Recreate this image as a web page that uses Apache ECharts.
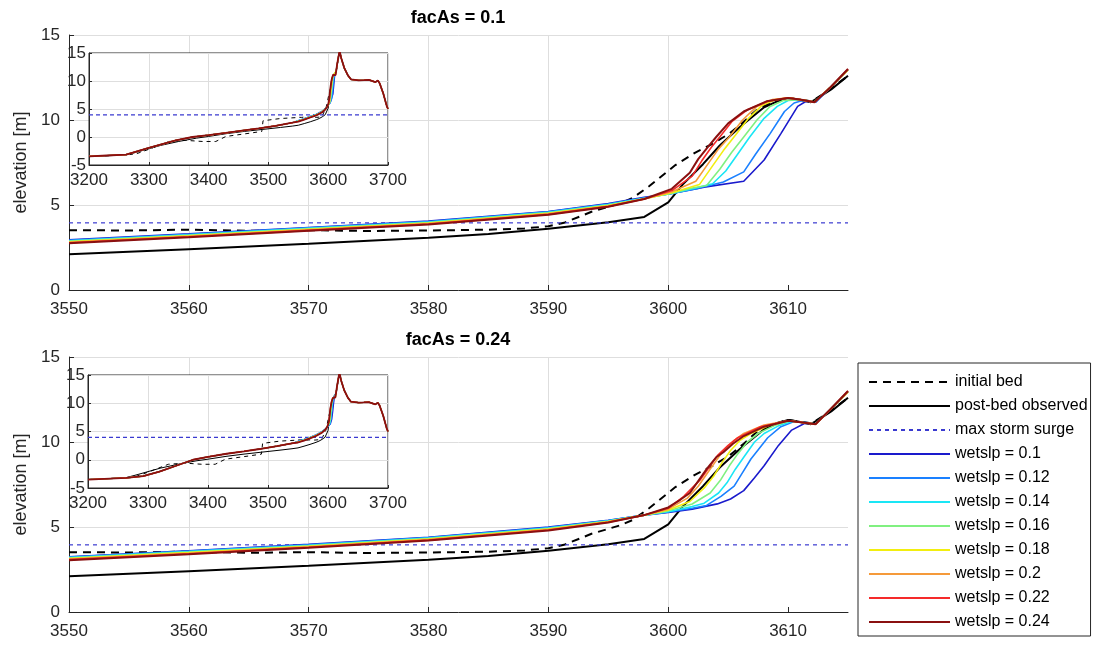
<!DOCTYPE html>
<html><head><meta charset="utf-8">
<script src="https://cdn.jsdelivr.net/npm/echarts@6/dist/echarts.min.js"></script>
<style>html,body{margin:0;padding:0;background:#fff}#c{width:1101px;height:648px}</style>
</head><body><div id="c"></div>
<script>
// ---------- data ----------
const titles = ['facAs = 0.1', 'facAs = 0.24'];
const xTickLabels = [3550, 3560, 3570, 3580, 3590, 3600, 3610];
const insetXTicks = [3200, 3300, 3400, 3500, 3600, 3700];
const wetNames = ['wetslp = 0.1','wetslp = 0.12','wetslp = 0.14','wetslp = 0.16','wetslp = 0.18','wetslp = 0.2','wetslp = 0.22','wetslp = 0.24'];
const stormSurge = 3.95;

const initialBed = [[3550,3.52],[3555,3.5],[3560,3.55],[3565,3.48],[3570,3.52],[3575,3.47],[3580,3.5],[3585,3.55],[3588,3.62],[3590,3.75],[3591.3,3.95],[3593.6,4.6],[3596,5.1],[3597,5.4],[3598.4,6.1],[3600.6,7.35],[3602.3,8.1],[3603.7,8.6],[3605.1,9.2],[3606.3,9.9],[3607.4,10.6],[3608.5,11.0],[3610,11.3],[3611,11.2],[3612,11.1],[3613.5,11.8],[3615,12.6]];
const postBed = [[3550,2.1],[3560,2.4],[3570,2.72],[3580,3.08],[3585,3.3],[3590,3.6],[3595,3.98],[3598,4.3],[3600,5.15],[3601.2,6.2],[3602.9,7.4],[3604.3,8.5],[3606,9.6],[3608,10.75],[3609.1,11.1],[3610,11.3],[3610.8,11.2],[3611.9,11.05],[3612.5,11.3],[3613.6,11.8],[3615,12.6]];

// facAs = 0.1
const top_w010 = [[3550,2.95],[3560,3.3],[3570,3.68],[3580,4.05],[3590,4.62],[3595,5.08],[3598,5.45],[3600.3,5.68],[3603,6.05],[3606.3,6.4],[3608,7.65],[3609.4,9.2],[3610.8,10.8],[3611.5,11.1],[3612.3,11.05],[3613.5,11.9],[3615,12.95]];
const top_w012 = [[3550,2.93],[3560,3.28],[3570,3.66],[3580,4.03],[3590,4.6],[3595,5.06],[3598,5.43],[3600.3,5.68],[3602.5,5.98],[3604.6,6.35],[3606.3,6.95],[3607.3,8.0],[3608.5,9.2],[3609.7,10.5],[3610.5,11.0],[3611.2,11.15],[3612.3,11.05],[3613.5,11.9],[3615,12.95]];
const top_w014 = [[3550,2.9],[3560,3.25],[3570,3.63],[3580,4.0],[3590,4.57],[3595,5.03],[3598,5.4],[3600.3,5.68],[3602.3,6.0],[3603.7,6.25],[3604.8,7.0],[3605.7,7.9],[3606.8,9.0],[3608,10.1],[3609.1,10.8],[3610,11.15],[3611,11.2],[3612.2,11.05],[3613.5,11.9],[3615,12.95]];
const top_w016 = [[3550,2.87],[3560,3.22],[3570,3.6],[3580,3.97],[3590,4.54],[3595,5.0],[3598,5.38],[3600.3,5.7],[3602,6.0],[3603.2,6.15],[3604.3,7.1],[3605.3,8.1],[3606.3,9.0],[3607.4,10.0],[3608.5,10.8],[3609.6,11.15],[3611,11.2],[3612.2,11.05],[3613.5,11.9],[3615,12.95]];
const top_w018 = [[3550,2.84],[3560,3.19],[3570,3.57],[3580,3.94],[3590,4.51],[3595,4.97],[3598,5.36],[3600.3,5.72],[3602.6,6.2],[3603.7,7.3],[3604.6,8.2],[3605.6,9.1],[3606.7,10.1],[3607.8,10.85],[3609,11.2],[3610,11.3],[3611,11.2],[3612.2,11.05],[3613.5,11.9],[3615,12.95]];
const top_w020 = [[3550,2.81],[3560,3.16],[3570,3.54],[3580,3.91],[3590,4.48],[3595,4.94],[3598,5.35],[3600.3,5.78],[3602.3,6.4],[3603.2,7.3],[3604.2,8.3],[3605.1,9.0],[3606.2,10.0],[3607.4,10.8],[3608.7,11.2],[3610,11.3],[3611,11.2],[3612.2,11.05],[3613.5,11.9],[3615,12.95]];
const top_w022 = [[3550,2.78],[3560,3.13],[3570,3.51],[3580,3.88],[3590,4.45],[3595,4.92],[3598,5.35],[3600.3,5.85],[3602,6.7],[3602.8,7.6],[3603.6,8.4],[3604.3,9.0],[3605.3,9.9],[3606.6,10.6],[3608.3,11.1],[3610,11.3],[3611,11.2],[3612.2,11.05],[3613.5,11.9],[3615,13.0]];
const top_w024 = [[3550,2.75],[3560,3.1],[3570,3.48],[3580,3.85],[3590,4.42],[3595,4.9],[3598,5.35],[3600.3,5.95],[3601.8,6.9],[3602.5,7.7],[3603.3,8.4],[3604,9.0],[3605,9.8],[3606.3,10.5],[3608.2,11.1],[3610,11.3],[3611,11.2],[3612.2,11.05],[3613.5,11.9],[3615,13.0]];

// facAs = 0.24
const bot_w010 = [[3550,3.25],[3560,3.6],[3570,3.98],[3580,4.4],[3590,5.0],[3595,5.4],[3598,5.7],[3600,5.85],[3602,6.05],[3604.1,6.36],[3605.2,6.65],[3606.3,7.14],[3607.2,7.9],[3608,8.6],[3609.2,9.8],[3610.3,10.7],[3611.4,11.1],[3612.3,11.05],[3613.5,11.9],[3615,12.95]];
const bot_w012 = [[3550,3.23],[3560,3.58],[3570,3.96],[3580,4.38],[3590,4.97],[3595,5.38],[3598,5.7],[3600,5.88],[3602,6.1],[3603.2,6.27],[3604.4,6.8],[3605.5,7.4],[3606.2,8.2],[3606.9,9.0],[3608.3,10.25],[3609.4,10.9],[3610.5,11.2],[3611.5,11.15],[3612.3,11.05],[3613.5,11.9],[3615,12.95]];
const bot_w014 = [[3550,3.2],[3560,3.55],[3570,3.93],[3580,4.35],[3590,4.94],[3595,5.36],[3598,5.7],[3600,5.9],[3602,6.2],[3603,6.4],[3604.2,7.0],[3604.9,7.6],[3605.6,8.4],[3606.3,9.1],[3607.2,10.0],[3608,10.5],[3609.2,10.95],[3610.3,11.2],[3611.3,11.15],[3612.3,11.05],[3613.5,11.9],[3615,12.95]];
const bot_w016 = [[3550,3.17],[3560,3.52],[3570,3.9],[3580,4.32],[3590,4.91],[3595,5.34],[3598,5.7],[3600,5.95],[3602,6.35],[3603.5,7.0],[3604.4,7.8],[3605.1,8.6],[3605.8,9.3],[3606.6,10.0],[3607.5,10.5],[3608.8,10.95],[3610.2,11.25],[3611.2,11.15],[3612.3,11.05],[3613.5,11.9],[3615,12.95]];
const bot_w018 = [[3550,3.14],[3560,3.49],[3570,3.87],[3580,4.29],[3590,4.88],[3595,5.32],[3598,5.7],[3600,6.0],[3601.8,6.5],[3603,7.3],[3603.8,8.0],[3604.5,8.8],[3605.2,9.5],[3606,10.1],[3606.9,10.5],[3608.5,11.0],[3610,11.25],[3611.2,11.15],[3612.3,11.05],[3613.5,11.9],[3615,12.95]];
const bot_w020 = [[3550,3.11],[3560,3.46],[3570,3.84],[3580,4.26],[3590,4.85],[3595,5.3],[3598,5.7],[3600,6.05],[3601.6,6.7],[3602.5,7.4],[3603.2,8.1],[3603.9,8.8],[3604.6,9.5],[3605.5,10.1],[3606.3,10.5],[3608,11.0],[3610,11.25],[3611.2,11.15],[3612.3,11.05],[3613.5,11.9],[3615,12.95]];
const bot_w022 = [[3550,3.08],[3560,3.43],[3570,3.81],[3580,4.23],[3590,4.82],[3595,5.28],[3598,5.7],[3600,6.1],[3601.3,6.8],[3602,7.3],[3602.7,7.8],[3603.4,8.5],[3604.1,9.2],[3605,9.8],[3605.8,10.25],[3607.7,10.9],[3610,11.25],[3611.2,11.15],[3612.3,11.05],[3613.5,11.9],[3615,13.0]];
const bot_w024 = [[3550,3.05],[3560,3.4],[3570,3.78],[3580,4.2],[3590,4.79],[3595,5.26],[3598,5.7],[3600,6.15],[3601,6.6],[3601.8,7.0],[3602.5,7.7],[3603.2,8.4],[3604,9.1],[3604.6,9.4],[3605.4,9.9],[3606.3,10.35],[3608,10.9],[3610,11.25],[3611.2,11.15],[3612.3,11.05],[3613.5,11.9],[3615,13.0]];

// inset (wide profile) pieces outside the main window
const insetTopLeft = [[3200,-3.45],[3230,-3.3],[3262,-3.15],[3279,-2.6],[3300,-1.95],[3318,-1.4],[3345,-0.6],[3373,0.0],[3400,0.35],[3429,0.75],[3456,1.15],[3484,1.55],[3512,2.0],[3540,2.55]];
const insetBotLeft = [[3200,-3.5],[3264,-3.2],[3292,-2.9],[3319,-2.1],[3347,-1.06],[3375,0.0],[3400,0.5],[3431,1.06],[3460,1.5],[3486,1.9],[3515,2.4],[3542,2.95]];
const insetPostLeft = [[3200,-3.5],[3262,-3.2],[3280,-2.7],[3320,-1.5],[3350,-0.8],[3380,-0.2],[3400,0.1],[3430,0.6],[3460,1.0],[3490,1.35],[3520,1.7],[3540,1.95]];
const insetInitLeft = [[3200,-3.5],[3262,-3.2],[3279,-3.0],[3300,-2.2],[3334,-0.8],[3362,-0.6],[3390,-0.8],[3412,-0.8],[3429,0.1],[3470,0.7],[3489,1.0],[3491,2.9],[3520,3.3],[3545,3.45]];
const insetRight = [[3617,14.2],[3619,15.4],[3622,14.0],[3627,12.3],[3633,11.0],[3638,10.3],[3651,10.1],[3660,10.15],[3668,10.2],[3679,9.8],[3683,10.1],[3686,9.6],[3692,7.8],[3698,5.5],[3700,5.0]];

// ---------- style ----------
const wetColors = ['#1a1acc','#1a80ff','#1ae6f5','#80f080','#f2ee10','#f59a3a','#f52a2a','#8a1010'];
const FONT = '"Liberation Sans", Arial, sans-serif';
const AX = '#262626';
const GRIDC = '#dedede';
const plain = v => String(v);

const topWet = [top_w010, top_w012, top_w014, top_w016, top_w018, top_w020, top_w022, top_w024];
const botWet = [bot_w010, bot_w012, bot_w014, bot_w016, bot_w018, bot_w020, bot_w022, bot_w024];

const mainGrids = [
  {left: 69, top: 35, width: 779, height: 255},
  {left: 69, top: 357, width: 779, height: 255}
];
const insetGrids = [
  {left: 89, top: 53, width: 299, height: 112, show: true, backgroundColor: '#fff', borderColor: AX, borderWidth: 1, z: 10},
  {left: 88, top: 375, width: 300, height: 113, show: true, backgroundColor: '#fff', borderColor: AX, borderWidth: 1, z: 10}
];

function mainX(gi) {
  return {type: 'value', gridIndex: gi, min: 3550, max: 3615, interval: 10,
    axisLine: {show: true, onZero: false, lineStyle: {color: AX, width: 1}},
    axisTick: {show: true, inside: true, length: 5, customValues: xTickLabels, lineStyle: {color: AX}},
    axisLabel: {customValues: xTickLabels, formatter: plain, fontSize: 17, color: AX, fontFamily: FONT, margin: 11},
    splitLine: {show: true, showMaxLine: false, lineStyle: {color: GRIDC, width: 1}}};
}
function mainY(gi) {
  return {type: 'value', gridIndex: gi, min: 0, max: 15, interval: 5,
    name: 'elevation [m]', nameLocation: 'middle', nameGap: 37,
    nameTextStyle: {fontSize: 18, color: AX, fontFamily: FONT},
    axisLine: {show: true, onZero: false, lineStyle: {color: AX, width: 1}},
    axisTick: {show: true, inside: true, length: 5, lineStyle: {color: AX}},
    axisLabel: {formatter: plain, fontSize: 17, color: AX, fontFamily: FONT, margin: 9},
    splitLine: {show: true, lineStyle: {color: GRIDC, width: 1}}};
}
function insetX(gi) {
  return {type: 'value', gridIndex: gi, min: 3200, max: 3700, interval: 100, z: 11,
    axisLine: {show: true, onZero: false, lineStyle: {color: AX}},
    axisTick: {show: true, inside: true, length: 3, lineStyle: {color: AX}},
    axisLabel: {formatter: plain, fontSize: 17, color: AX, fontFamily: FONT, margin: 7},
    splitLine: {show: true, lineStyle: {color: GRIDC}}};
}
function insetY(gi) {
  return {type: 'value', gridIndex: gi, min: -5, max: 15, interval: 5, z: 11,
    axisLine: {show: true, onZero: false, lineStyle: {color: AX}},
    axisTick: {show: true, inside: true, length: 3, lineStyle: {color: AX}},
    axisLabel: {formatter: plain, fontSize: 17, color: AX, fontFamily: FONT, margin: 3},
    splitLine: {show: true, lineStyle: {color: GRIDC}}};
}

const series = [];
function addLine(name, data, axisIdx, color, width, type, z) {
  series.push({name, type: 'line', xAxisIndex: axisIdx, yAxisIndex: axisIdx, data,
    symbol: 'none', silent: true, animation: false, z,
    lineStyle: {color, width, type}, itemStyle: {color}});
}

// main plots: axis index 0 (top), 1 (bottom)
[topWet, botWet].forEach((wet, gi) => {
  addLine('initial bed', initialBed, gi, '#000', 2, [8, 6], 2);
  addLine('post-bed observed', postBed, gi, '#000', 2, 'solid', 2);
  addLine('max storm surge', [[3550, stormSurge], [3615, stormSurge]], gi, '#3a3ad0', 1.2, [4, 4], 2);
  wet.forEach((d, i) => addLine(wetNames[i], d, gi, wetColors[i], i === 7 ? 2 : 1.6, 'solid', 3));
});
// insets: axis index 2 (top), 3 (bottom)
[[topWet, insetTopLeft], [botWet, insetBotLeft]].forEach(([wet, left], k) => {
  const ai = 2 + k;
  addLine('initial bed', insetInitLeft.concat(initialBed, insetRight), ai, '#000', 1, [4, 4], 12);
  addLine('post-bed observed', insetPostLeft.concat(postBed, insetRight), ai, '#000', 1, 'solid', 12);
  addLine('max storm surge', [[3200, stormSurge], [3700, stormSurge]], ai, '#3a3ad0', 1.2, [4, 3], 12);
  wet.forEach((d, i) => addLine(wetNames[i], left.concat(d, insetRight), ai, wetColors[i], i === 7 ? 1.8 : 1.2, 'solid', 13));
});

const chart = echarts.init(document.getElementById('c'), null, {renderer: 'canvas'});
chart.setOption({
  animation: false,
  backgroundColor: '#fff',
  grid: mainGrids.concat(insetGrids),
  xAxis: [mainX(0), mainX(1), insetX(2), insetX(3)],
  yAxis: [mainY(0), mainY(1), insetY(2), insetY(3)],
  legend: {
    orient: 'vertical', left: 858, top: 363, padding: [11, 3, 6, 10],
    itemWidth: 81, itemHeight: 14, itemGap: 8,
    borderColor: AX, borderWidth: 1, backgroundColor: '#fff',
    selectedMode: false,
    itemStyle: {opacity: 0},
    lineStyle: {width: 2},
    textStyle: {fontSize: 16, color: '#000', fontFamily: FONT},
    data: ['initial bed', 'post-bed observed', 'max storm surge'].concat(wetNames)
  },
  graphic: titles.map((t, i) => ({
    type: 'text', x: 458, y: i === 0 ? 18 : 340,
    style: {text: t, font: 'bold 18px ' + FONT, fill: '#000', align: 'center', verticalAlign: 'middle', textAlign: 'center', textVerticalAlign: 'middle'}
  })),
  series
});
</script>
</body></html>
